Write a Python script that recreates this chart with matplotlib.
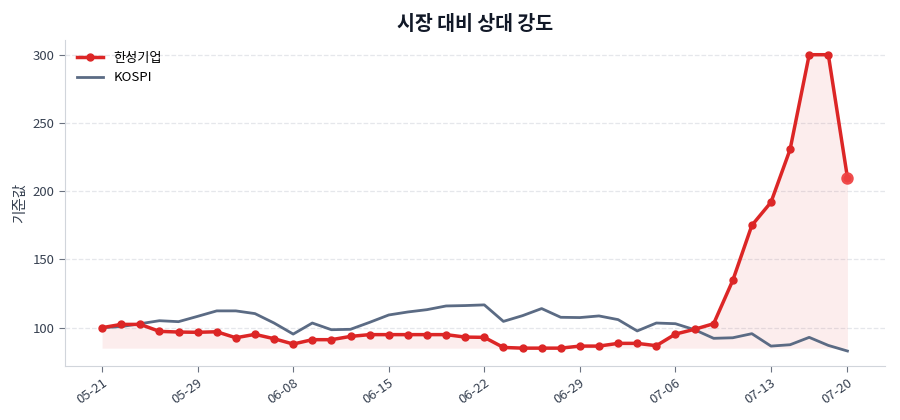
import matplotlib
matplotlib.use("Agg")
import matplotlib.pyplot as plt
import numpy as np

plt.rcParams['font.family'] = ['Noto Sans CJK KR', 'DejaVu Sans']

# 기준값 (첫날 = 100)
stock = [100, 102.4, 102.4, 97.3, 96.8, 96.6, 97.0, 92.6, 95.1, 91.9,
         88.0, 91.2, 91.2, 93.6, 94.9, 94.9, 94.9, 94.9, 94.9, 93.1,
         92.9, 85.5, 85.0, 85.0, 85.0, 86.5, 86.5, 88.5, 88.5, 86.8,
         95.3, 98.8, 102.9, 134.6, 175.0, 191.9, 230.6, 300.0, 300.0, 210.0]
kospi = [100, 100.8, 102.9, 105.1, 104.4, 108.3, 112.3, 112.3, 110.3, 103.4,
         95.3, 103.4, 98.5, 98.8, 103.9, 109.3, 111.5, 113.2, 115.9, 116.2,
         116.7, 104.6, 108.8, 114.0, 107.6, 107.4, 108.6, 105.9, 97.6, 103.4,
         102.9, 98.5, 92.2, 92.6, 95.6, 86.5, 87.5, 92.9, 87.0, 82.9]
tick_labels = ['05-21', '05-29', '06-08', '06-15', '06-22', '06-29', '07-06', '07-13', '07-20']

x = np.arange(len(stock))
red = '#dc2626'
gray = '#5b6b84'

fig = plt.figure(figsize=(9, 4.2), dpi=100)
ax = fig.add_axes([0.072, 0.129, 0.911, 0.776])

ax.fill_between(x, stock, min(stock), color=red, alpha=0.08, lw=0)
ax.plot(x, stock, color=red, lw=2.5, marker='o', ms=5, label='한성기업', zorder=3)
ax.plot(x, kospi, color=gray, lw=2, label='KOSPI', zorder=2)
ax.plot(x[-1], stock[-1], 'o', color='#ef4444', alpha=0.9, ms=8, zorder=4)

ticks = list(range(0, len(x), 5)) + [len(x) - 1]
ax.set_xticks(ticks)
ax.set_xticklabels(tick_labels, rotation=35, ha='right', rotation_mode='anchor')
ax.set_yticks([100, 150, 200, 250, 300])

ax.grid(axis='y', ls='--', color='#e5e7eb', lw=0.9)
ax.set_axisbelow(True)
for s in ['top', 'right']:
    ax.spines[s].set_visible(False)
for s in ['left', 'bottom']:
    ax.spines[s].set_color('#d1d5db')
ax.tick_params(colors='#374151', labelsize=9.5, length=4)
ax.tick_params(axis='both', color='#6b7280')

ax.set_ylabel('기준값', fontsize=10.5, color='#374151')
ax.set_title('시장 대비 상대 강도', fontsize=14, fontweight='bold', color='#111827', pad=7)
ax.legend(loc='upper left', frameon=False, fontsize=9.5)

fig.savefig('out.png')
